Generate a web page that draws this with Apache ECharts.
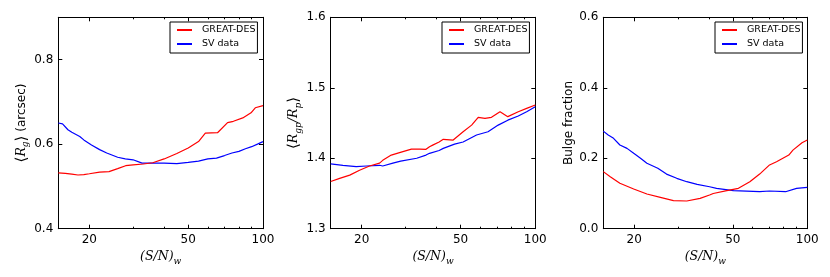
<!DOCTYPE html>
<html><head><meta charset="utf-8">
<script src="https://cdn.jsdelivr.net/npm/echarts@6/dist/echarts.min.js"></script>
<style>html,body{margin:0;padding:0;background:#fff}#c{width:830px;height:277px}</style>
</head><body><div id="c"></div>
<script>
// Tick values
const xMajorTicks = [20, 50, 100];
const xMinorTicks = [30, 40, 60, 70, 80, 90];
const yTicks1 = [0.4, 0.6, 0.8];
const yTicks2 = [1.3, 1.4, 1.5, 1.6];
const yTicks3 = [0.0, 0.2, 0.4, 0.6];
const seriesNames = ['GREAT-DES', 'SV data'];

// Panel 1: <R_g> (arcsec)  [S/N, value]
const rgGreat = [[15,0.532],[16,0.531],[17,0.529],[18,0.527],[19,0.528],[20,0.530],[22,0.534],[24,0.535],[26,0.542],[28,0.549],[30,0.551],[33,0.553],[36,0.556],[40,0.565],[45,0.578],[50,0.591],[55,0.606],[58.6,0.626],[65.6,0.627],[72,0.651],[76,0.654],[82.9,0.662],[89.5,0.674],[93.1,0.686],[100,0.691]];
const rgSV = [[15,0.650],[15.6,0.648],[16.4,0.634],[17,0.628],[18.3,0.618],[19,0.610],[20.4,0.598],[22,0.587],[23.5,0.579],[26,0.569],[27.9,0.565],[30,0.563],[32.6,0.555],[36,0.555],[40,0.555],[45,0.554],[50,0.557],[55,0.560],[60,0.565],[65,0.567],[70,0.573],[75,0.579],[80,0.583],[85,0.589],[90,0.594],[95,0.600],[100,0.606]];

// Panel 2: <R_gp/R_p>
const ratioGreat = [[15,1.367],[16.3,1.3715],[17.9,1.376],[19.6,1.383],[21.5,1.389],[23.6,1.393],[24.3,1.397],[26.3,1.4045],[28.4,1.408],[31.7,1.413],[34.3,1.413],[36.3,1.4126],[37.5,1.4163],[38.8,1.419],[41,1.423],[42.6,1.4268],[46.7,1.4258],[51.2,1.4376],[55.4,1.447],[58.9,1.458],[62.7,1.4566],[66.6,1.458],[72.1,1.466],[77.5,1.459],[85.4,1.466],[92.3,1.4708],[100,1.4755]];
const ratioSV = [[15,1.392],[16.8,1.390],[19.0,1.388],[20.9,1.389],[23.6,1.390],[24.3,1.389],[26.7,1.393],[28.7,1.396],[33.3,1.400],[36.3,1.4045],[37.5,1.407],[41,1.411],[42.6,1.414],[47.3,1.420],[51.2,1.423],[58.0,1.433],[64.5,1.4376],[70.9,1.447],[77.5,1.454],[85.4,1.46],[92.3,1.466],[100,1.473]];

// Panel 3: Bulge fraction
const bulgeGreat = [[15,0.162],[16,0.1476],[17.5,0.129],[19.9,0.1127],[22.5,0.0985],[25.5,0.089],[28.8,0.0795],[32.6,0.0786],[36.9,0.086],[40.3,0.0956],[41.7,0.100],[47.3,0.108],[52.7,0.1147],[58.6,0.133],[64.2,0.155],[70.4,0.181],[75.1,0.190],[84.2,0.209],[87.5,0.223],[95.2,0.244],[100,0.252]];
const bulgeSV = [[15,0.277],[15.7,0.266],[16.5,0.2566],[17.5,0.2375],[18.7,0.228],[19.9,0.214],[21.2,0.200],[22.5,0.1856],[24.9,0.1714],[27.0,0.155],[29.7,0.143],[32.6,0.1334],[35.9,0.126],[40.3,0.119],[43.0,0.1146],[50.3,0.108],[64.2,0.105],[70.4,0.107],[81.7,0.105],[90.5,0.1146],[100,0.1175]];

const panels = [
  {left:58.3, width:204.7, yMin:0.4, yMax:0.9, yTicks:yTicks1, great:rgGreat, sv:rgSV, legendLeft:170,
   yName:'{b|⟨}{i|R}{s|g}{b|⟩}{t| (arcsec)}', nameGap:27},
  {left:330.7, width:204.6, yMin:1.3, yMax:1.6, yTicks:yTicks2, great:ratioGreat, sv:ratioSV, legendLeft:442,
   yName:'{b|⟨}{i|R}{s|gp}{i|/R}{s|p}{b|⟩}', nameGap:27},
  {left:603.3, width:204, yMin:0, yMax:0.6, yTicks:yTicks3, great:bulgeGreat, sv:bulgeSV, legendLeft:715,
   yName:'Bulge fraction', nameGap:24}
];

const TOP = 17.3, HEIGHT = 211.4;
const black = '#000';
const mathRich = {
  b:{fontFamily:'DejaVu Serif', fontSize:15, color:black, lineHeight:17},
  i:{fontFamily:'DejaVu Serif', fontStyle:'italic', fontSize:12.5, color:black, lineHeight:17},
  s:{fontFamily:'DejaVu Serif', fontStyle:'italic', fontSize:9, color:black, verticalAlign:'bottom', lineHeight:12, padding:[6,0,0,0]},
  t:{fontFamily:'DejaVu Sans', fontSize:12, color:black, lineHeight:17}
};

const grid = [], xAxis = [], yAxis = [], series = [], legend = [];
panels.forEach((p, i) => {
  grid.push({left:p.left, top:TOP, width:p.width, height:HEIGHT, containLabel:false});
  const xBase = {type:'log', logBase:10, min:15, max:100, gridIndex:i, splitLine:{show:false}};
  xAxis.push(Object.assign({}, xBase, {
    position:'bottom',
    axisLine:{show:true, lineStyle:{color:black, width:1}},
    axisTick:{show:true, inside:true, length:4, customValues:xMajorTicks, lineStyle:{color:black}},
    axisLabel:{show:true, customValues:xMajorTicks, color:black, fontFamily:'DejaVu Sans', fontSize:12, margin:5},
    name:'{i|(S/N)}{s|w}', nameLocation:'middle', nameGap:20,
    nameTextStyle:{rich:mathRich}
  }));
  xAxis.push(Object.assign({}, xBase, {
    position:'bottom', axisLine:{show:false},
    axisTick:{show:true, inside:true, length:2, customValues:xMinorTicks, lineStyle:{color:black}},
    axisLabel:{show:false}
  }));
  xAxis.push(Object.assign({}, xBase, {
    position:'top',
    axisLine:{show:true, lineStyle:{color:black, width:1}},
    axisTick:{show:true, inside:true, length:4, customValues:xMajorTicks, lineStyle:{color:black}},
    axisLabel:{show:false}
  }));
  xAxis.push(Object.assign({}, xBase, {
    position:'top', axisLine:{show:false},
    axisTick:{show:true, inside:true, length:2, customValues:xMinorTicks, lineStyle:{color:black}},
    axisLabel:{show:false}
  }));
  const yBase = {type:'value', min:p.yMin, max:p.yMax, gridIndex:i, splitLine:{show:false}};
  yAxis.push(Object.assign({}, yBase, {
    position:'left',
    axisLine:{show:true, lineStyle:{color:black, width:1}},
    axisTick:{show:true, inside:true, length:4, customValues:p.yTicks, lineStyle:{color:black}},
    axisLabel:{show:true, customValues:p.yTicks, color:black, fontFamily:'DejaVu Sans', fontSize:12, margin:5,
      formatter:v => v.toFixed(1)},
    name:p.yName, nameLocation:'middle', nameGap:p.nameGap, nameRotate:90,
    nameTextStyle:{rich:mathRich, fontFamily:'DejaVu Sans', fontSize:12, color:black}
  }));
  yAxis.push(Object.assign({}, yBase, {
    position:'right',
    axisLine:{show:true, lineStyle:{color:black, width:1}},
    axisTick:{show:true, inside:true, length:4, customValues:p.yTicks, lineStyle:{color:black}},
    axisLabel:{show:false}
  }));
  series.push({name:seriesNames[0], type:'line', xAxisIndex:i*4, yAxisIndex:i*2, data:p.great,
    symbol:'none', smooth:false, lineStyle:{color:'#ff0000', width:1.2}, itemStyle:{color:'#ff0000'}, z:3});
  series.push({name:seriesNames[1], type:'line', xAxisIndex:i*4, yAxisIndex:i*2, data:p.sv,
    symbol:'none', smooth:false, lineStyle:{color:'#0000ff', width:1.2}, itemStyle:{color:'#0000ff'}, z:2});
  legend.push({data:seriesNames, left:p.legendLeft, top:22, orient:'vertical',
    padding:[3,2,4,6], itemGap:4, itemWidth:15, itemHeight:10,
    itemStyle:{opacity:0},
    borderColor:black, borderWidth:1, borderRadius:0, backgroundColor:'#fff',
    textStyle:{fontFamily:'DejaVu Sans', fontSize:9.5, color:black, padding:[0,0,0,5]},
    selectedMode:false});
});

const chart = echarts.init(document.getElementById('c'), null, {renderer:'canvas'});
chart.setOption({animation:false, backgroundColor:'#fff', grid, xAxis, yAxis, series, legend});
</script></body></html>
